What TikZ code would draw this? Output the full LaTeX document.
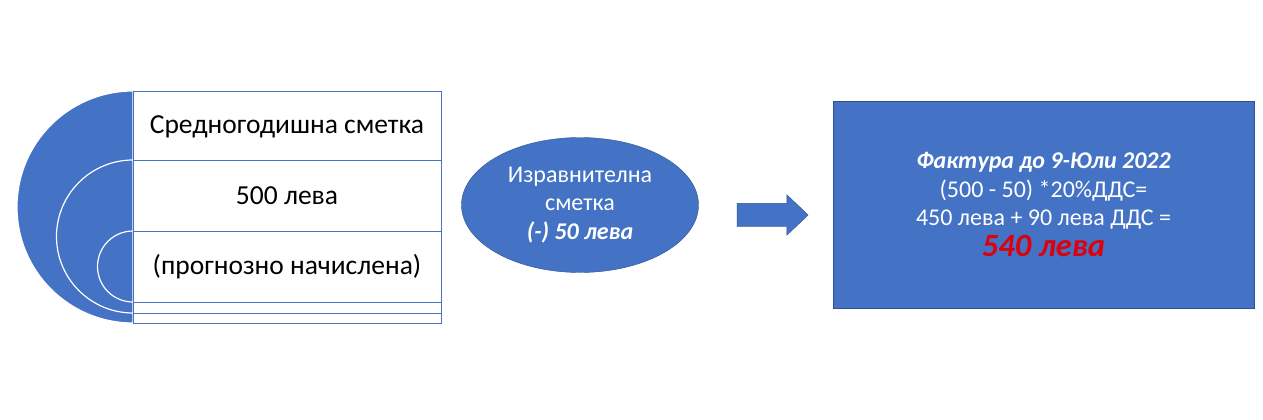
\documentclass[tikz,border=0pt]{standalone}
\usepackage{fontspec}
\setmainfont{Carlito}
\usetikzlibrary{positioning,shapes,shapes.arrows,calc}
\definecolor{offblue}{RGB}{68,114,196}
\definecolor{offdark}{RGB}{47,82,143}
\definecolor{offred}{RGB}{222,0,10}
\tikzset{
  half/.style    = {fill=offblue, draw=white, line width=1.2pt},
  band/.style    = {rectangle, draw=offblue, fill=white, line width=0.8pt,
                    anchor=north west, inner sep=0pt},
  bandtext/.style = {font=\fontsize{27.5}{32}\selectfont, text=black},
  oval/.style    = {ellipse, draw=offdark, fill=offblue, text=white, align=center,
                    inner sep=0pt, font=\fontsize{24}{28.5}\selectfont},
  invoice/.style = {rectangle, draw=offdark, fill=offblue, text=white, align=center,
                    inner sep=0pt, font=\fontsize{24}{28.5}\selectfont}
}
\begin{document}
\begin{tikzpicture}[x=1pt,y=-1pt]
        \useasboundingbox (0,0) rectangle (1263,420);
        % nested half discs on the left
        \filldraw[half] (133,91) arc[start angle=-90, end angle=-270, radius=116] -- cycle;
        \filldraw[half] (133,160) arc[start angle=-90, end angle=-270, radius=76.5] -- cycle;
        \filldraw[half] (133,231) arc[start angle=-90, end angle=-270, radius=35.5] -- cycle;
        % the stacked bands
        \node[band, minimum width=308, minimum height=232] (b1) at (133,91) {};
        \node[band, minimum width=308, minimum height=153] (b2) at (133,160) {};
        \node[band, minimum width=308, minimum height=71] (b3) at (133,231) {};
        \node[bandtext] (t1) at (287,127) {Средногодишна сметка};
        \node[bandtext] (t2) at (287,196) {500 лева};
        \node[bandtext] (t3) at (287,267) {(прогнозно начислена)};
        % correction in the middle
        \node[oval, minimum width=237, minimum height=135] (corr) at (580,205)
          {Изравнителна\\сметка\\\textbf{\textit{(-) 50 лева}}};
        \node[single arrow, fill=offblue, draw=offdark, minimum height=71,
          inner xsep=0pt, inner ysep=11.5pt, single arrow head extend=8.5pt,
          single arrow tip angle=87, single arrow head indent=0pt] (arr) at (766.5,215) {};
        % the invoice
        \node[invoice, minimum width=421, minimum height=207] (inv) at (1043.5,204.5)
          {\textbf{\textit{Фактура до 9-Юли 2022}}\\
           (500 - 50) *20\%ДДС=\\
           450 лева + 90 лева ДДС =\\[2pt]
           {\fontsize{32.5}{34}\selectfont\color{offred}\textbf{\textit{540 лева}}}};
\end{tikzpicture}
\end{document}
